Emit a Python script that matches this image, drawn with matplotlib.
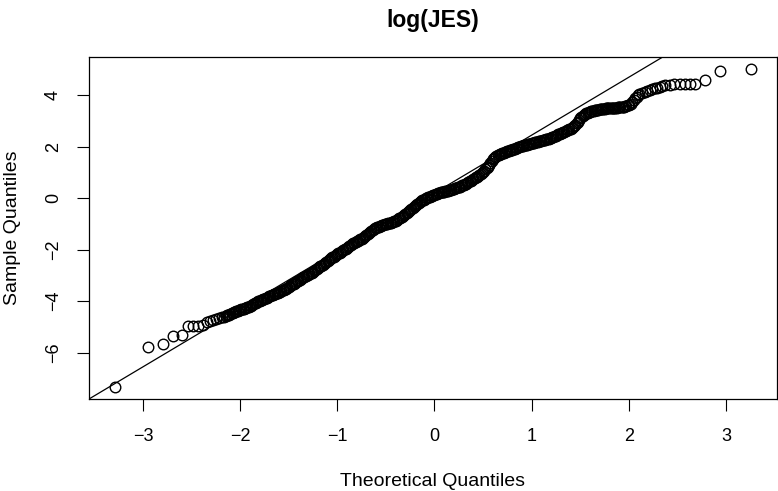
import matplotlib
matplotlib.use("Agg")
import matplotlib.pyplot as plt

plt.rcParams["font.family"] = ["Liberation Sans", "DejaVu Sans"]

TITLE = "log(JES)"
X_LABEL = "Theoretical Quantiles"
Y_LABEL = "Sample Quantiles"

# lower tail (theoretical, sample)
theo_lo = [-3.29, -2.95, -2.79, -2.69, -2.60, -2.54, -2.48, -2.43, -2.38,
           -2.34, -2.31, -2.28, -2.25, -2.22, -2.19, -2.17]
samp_lo = [-7.33, -5.80, -5.67, -5.34, -5.31, -4.97, -4.96, -4.95, -4.92,
           -4.80, -4.77, -4.73, -4.70, -4.66, -4.62, -4.60]

# dense middle part
theo_mid = [
    -2.150, -2.125, -2.100, -2.075, -2.050, -2.025, -2.000, -1.975, -1.950, -1.925,
    -1.900, -1.875, -1.850, -1.825, -1.800, -1.775, -1.750, -1.725, -1.700, -1.675,
    -1.650, -1.625, -1.600, -1.575, -1.550, -1.525, -1.500, -1.475, -1.450, -1.425,
    -1.400, -1.375, -1.350, -1.325, -1.300, -1.275, -1.250, -1.225, -1.200, -1.175,
    -1.150, -1.125, -1.100, -1.075, -1.050, -1.025, -1.000, -0.975, -0.950, -0.925,
    -0.900, -0.875, -0.850, -0.825, -0.800, -0.775, -0.750, -0.725, -0.700, -0.675,
    -0.650, -0.625, -0.600, -0.575, -0.550, -0.525, -0.500, -0.475, -0.450, -0.425,
    -0.400, -0.375, -0.350, -0.325, -0.300, -0.275, -0.250, -0.225, -0.200, -0.175,
    -0.150, -0.125, -0.100, -0.075, -0.050, -0.025, 0.000, 0.025, 0.050, 0.075,
    0.100, 0.125, 0.150, 0.175, 0.200, 0.225, 0.250, 0.275, 0.300, 0.325,
    0.350, 0.375, 0.400, 0.425, 0.450, 0.475, 0.500, 0.525, 0.550, 0.575,
    0.600, 0.625, 0.650, 0.675, 0.700, 0.725, 0.750, 0.775, 0.800, 0.825,
    0.850, 0.875, 0.900, 0.925, 0.950, 0.975, 1.000, 1.025, 1.050, 1.075,
    1.100, 1.125, 1.150, 1.175, 1.200, 1.225, 1.250, 1.275, 1.300, 1.325,
    1.350, 1.375, 1.400, 1.425, 1.450, 1.475, 1.500, 1.525, 1.550, 1.575,
    1.600, 1.625, 1.650, 1.675, 1.700, 1.725, 1.750, 1.775, 1.800, 1.825,
    1.850, 1.875, 1.900, 1.925, 1.950, 1.975, 2.000,
]
samp_mid = [
    -4.57, -4.53, -4.50, -4.46, -4.42, -4.37, -4.33, -4.30, -4.27, -4.24,
    -4.20, -4.14, -4.08, -4.03, -3.98, -3.94, -3.90, -3.86, -3.82, -3.78,
    -3.74, -3.70, -3.66, -3.61, -3.56, -3.51, -3.45, -3.38, -3.32, -3.26,
    -3.20, -3.14, -3.08, -3.02, -2.97, -2.92, -2.86, -2.79, -2.72, -2.65,
    -2.58, -2.51, -2.44, -2.37, -2.30, -2.24, -2.18, -2.12, -2.06, -1.99,
    -1.92, -1.85, -1.78, -1.73, -1.68, -1.63, -1.58, -1.50, -1.42, -1.34,
    -1.26, -1.21, -1.16, -1.12, -1.08, -1.04, -1.01, -0.98, -0.95, -0.91,
    -0.87, -0.82, -0.76, -0.69, -0.62, -0.54, -0.46, -0.38, -0.30, -0.22,
    -0.15, -0.09, -0.03, 0.02, 0.06, 0.10, 0.13, 0.17, 0.20, 0.23,
    0.25, 0.28, 0.30, 0.33, 0.36, 0.40, 0.43, 0.47, 0.51, 0.56,
    0.62, 0.68, 0.74, 0.80, 0.86, 0.94, 1.02, 1.12, 1.22, 1.36,
    1.50, 1.59, 1.66, 1.70, 1.74, 1.78, 1.81, 1.85, 1.88, 1.92,
    1.96, 1.99, 2.02, 2.05, 2.07, 2.10, 2.12, 2.15, 2.17, 2.20,
    2.22, 2.25, 2.28, 2.31, 2.35, 2.39, 2.43, 2.47, 2.51, 2.55,
    2.60, 2.65, 2.70, 2.77, 2.85, 2.97, 3.10, 3.20, 3.28, 3.32,
    3.36, 3.39, 3.41, 3.43, 3.45, 3.46, 3.47, 3.48, 3.49, 3.50,
    3.51, 3.51, 3.52, 3.53, 3.55, 3.58, 3.62,
]

# further points of the dense part, lying between the ones above
theo_mid_b = [
    -2.1375, -2.1125, -2.0875, -2.0625, -2.0375, -2.0125, -1.9875, -1.9625, -1.9375, -1.9125,
    -1.8875, -1.8625, -1.8375, -1.8125, -1.7875, -1.7625, -1.7375, -1.7125, -1.6875, -1.6625,
    -1.6375, -1.6125, -1.5875, -1.5625, -1.5375, -1.5125, -1.4875, -1.4625, -1.4375, -1.4125,
    -1.3875, -1.3625, -1.3375, -1.3125, -1.2875, -1.2625, -1.2375, -1.2125, -1.1875, -1.1625,
    -1.1375, -1.1125, -1.0875, -1.0625, -1.0375, -1.0125, -0.9875, -0.9625, -0.9375, -0.9125,
    -0.8875, -0.8625, -0.8375, -0.8125, -0.7875, -0.7625, -0.7375, -0.7125, -0.6875, -0.6625,
    -0.6375, -0.6125, -0.5875, -0.5625, -0.5375, -0.5125, -0.4875, -0.4625, -0.4375, -0.4125,
    -0.3875, -0.3625, -0.3375, -0.3125, -0.2875, -0.2625, -0.2375, -0.2125, -0.1875, -0.1625,
    -0.1375, -0.1125, -0.0875, -0.0625, -0.0375, -0.0125, 0.0125, 0.0375, 0.0625, 0.0875,
    0.1125, 0.1375, 0.1625, 0.1875, 0.2125, 0.2375, 0.2625, 0.2875, 0.3125, 0.3375,
    0.3625, 0.3875, 0.4125, 0.4375, 0.4625, 0.4875, 0.5125, 0.5375, 0.5625, 0.5875,
    0.6125, 0.6375, 0.6625, 0.6875, 0.7125, 0.7375, 0.7625, 0.7875, 0.8125, 0.8375,
    0.8625, 0.8875, 0.9125, 0.9375, 0.9625, 0.9875, 1.0125, 1.0375, 1.0625, 1.0875,
    1.1125, 1.1375, 1.1625, 1.1875, 1.2125, 1.2375, 1.2625, 1.2875, 1.3125, 1.3375,
    1.3625, 1.3875, 1.4125, 1.4375, 1.4625, 1.4875, 1.5125, 1.5375, 1.5625, 1.5875,
    1.6125, 1.6375, 1.6625, 1.6875, 1.7125, 1.7375, 1.7625, 1.7875, 1.8125, 1.8375,
    1.8625, 1.8875, 1.9125, 1.9375, 1.9625, 1.9875,
]
samp_mid_b = [
    -4.55, -4.52, -4.48, -4.44, -4.40, -4.35, -4.32, -4.29, -4.26, -4.22,
    -4.17, -4.11, -4.06, -4.00, -3.96, -3.92, -3.88, -3.84, -3.80, -3.76,
    -3.72, -3.68, -3.64, -3.58, -3.54, -3.48, -3.42, -3.35, -3.29, -3.23,
    -3.17, -3.11, -3.05, -3.00, -2.94, -2.89, -2.82, -2.76, -2.68, -2.62,
    -2.54, -2.48, -2.40, -2.34, -2.27, -2.21, -2.15, -2.09, -2.02, -1.96,
    -1.88, -1.82, -1.76, -1.70, -1.66, -1.60, -1.54, -1.46, -1.38, -1.30,
    -1.24, -1.18, -1.14, -1.10, -1.06, -1.02, -1.00, -0.96, -0.93, -0.89,
    -0.84, -0.79, -0.72, -0.66, -0.58, -0.50, -0.42, -0.34, -0.26, -0.18,
    -0.12, -0.06, -0.01, 0.04, 0.08, 0.12, 0.15, 0.18, 0.22, 0.24,
    0.26, 0.29, 0.32, 0.34, 0.38, 0.42, 0.45, 0.49, 0.54, 0.59,
    0.65, 0.71, 0.77, 0.83, 0.90, 0.98, 1.07, 1.17, 1.29, 1.43,
    1.55, 1.63, 1.68, 1.72, 1.76, 1.80, 1.83, 1.87, 1.90, 1.94,
    1.98, 2.01, 2.04, 2.06, 2.09, 2.11, 2.14, 2.16, 2.19, 2.21,
    2.24, 2.27, 2.30, 2.33, 2.37, 2.41, 2.45, 2.49, 2.53, 2.58,
    2.63, 2.68, 2.74, 2.81, 2.91, 3.04, 3.15, 3.24, 3.30, 3.34,
    3.38, 3.40, 3.42, 3.44, 3.46, 3.47, 3.48, 3.49, 3.50, 3.51,
    3.51, 3.52, 3.53, 3.54, 3.57, 3.60,
]

# upper tail
theo_hi = [2.020, 2.035, 2.050, 2.065, 2.080, 2.095, 2.110, 2.135, 2.165, 2.190,
           2.215, 2.240, 2.270, 2.295, 2.320, 2.345, 2.370, 2.420, 2.470, 2.530,
           2.580, 2.630, 2.680, 2.780, 2.940, 3.260]
samp_hi = [3.66, 3.72, 3.80, 3.87, 3.93, 4.00, 4.06, 4.10, 4.13, 4.16,
           4.19, 4.22, 4.26, 4.29, 4.32, 4.35, 4.38, 4.41, 4.43, 4.43,
           4.43, 4.43, 4.44, 4.58, 4.94, 5.00]

# reference line (through the quartiles)
line_intercept = 0.195
line_slope = 2.249

x_ticks = [-3, -2, -1, 0, 1, 2, 3]
y_ticks = [-6, -4, -2, 0, 2, 4]

theo = theo_lo + theo_mid + theo_mid_b + theo_hi
samp = samp_lo + samp_mid + samp_mid_b + samp_hi

fig = plt.figure(figsize=(7.78, 4.91), dpi=100)
ax = fig.add_axes([89 / 778, 1 - 399 / 491, 688 / 778, 342.3 / 491])

ax.plot(theo, samp, linestyle="none", marker="o", markersize=7.6,
        markerfacecolor="none", markeredgecolor="black", markeredgewidth=1.0)
ax.axline((0, line_intercept), slope=line_slope, color="black", linewidth=0.9)

ax.set_xlim(-3.555, 3.525)
ax.set_ylim(-7.80, 5.49)
ax.set_xticks(x_ticks)
ax.set_yticks(y_ticks)
ax.tick_params(length=8.5, width=0.8, labelsize=13)
ax.tick_params(axis="x", pad=12.5)
ax.tick_params(axis="y", pad=11)
for lab in ax.get_yticklabels():
    lab.set_rotation(90)
    lab.set_verticalalignment("center")
for spine in ax.spines.values():
    spine.set_linewidth(0.9)

fig.text(433 / 778, 1 - 21 / 491, TITLE, ha="center", va="center",
         fontsize=16.5, fontweight="bold")
fig.text(433 / 778, 1 - 482 / 491, X_LABEL, ha="center", va="center", fontsize=14)
fig.text(13 / 778, 1 - 228 / 491, Y_LABEL, ha="center", va="center",
         rotation=90, fontsize=14)

fig.savefig("out.png", dpi=100)
